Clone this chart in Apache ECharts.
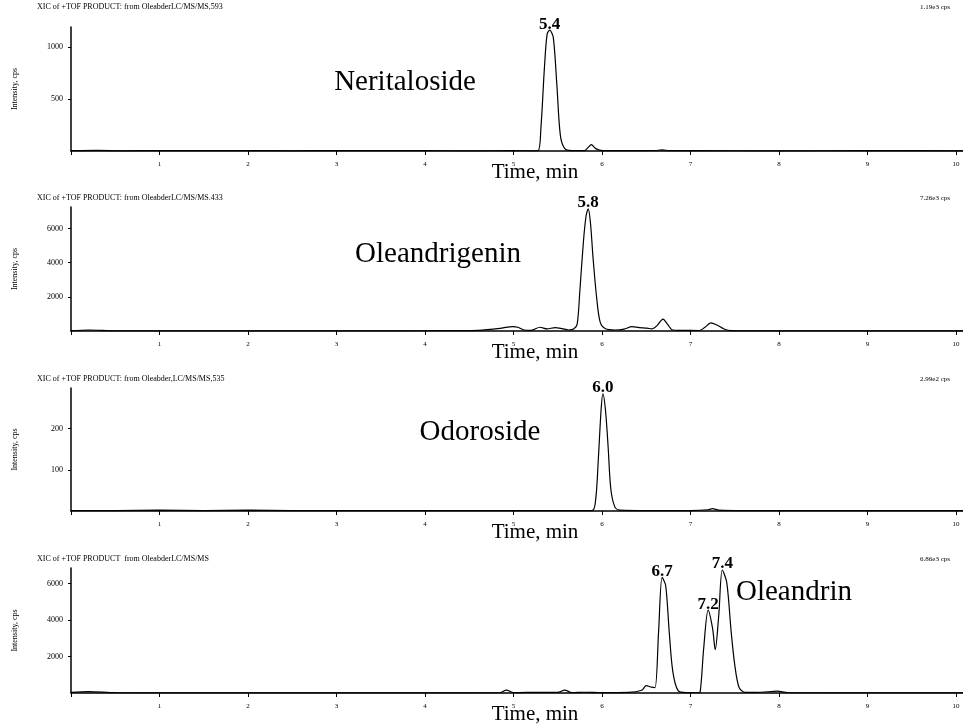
<!DOCTYPE html>
<html>
<head>
<meta charset="utf-8">
<script src="https://cdn.jsdelivr.net/npm/echarts@6/dist/echarts.min.js"></script>
<style>
  html, body { margin: 0; padding: 0; background: #fff; }
  #chart { width: 963px; height: 726px; }
</style>
</head>
<body>
<div id="chart"></div>
<script>
// retention time (min) and intensity (cps)
const neritalosideTime = [0, 0.3, 0.6, 1.0, 1.5, 2.0, 2.5, 3.0, 3.5, 4.0, 4.5, 5.0, 5.2, 5.28, 5.31, 5.35, 5.38, 5.41, 5.45, 5.49, 5.53, 5.58, 5.66, 5.8, 5.84, 5.88, 5.93, 6.01, 6.3, 6.6, 6.68, 6.76, 7.0, 8.0, 9.0, 10.08];
const neritalosideIntensity = [3, 6, 2, 5, 3, 4, 2, 4, 3, 3, 2, 3, 2, 5, 217, 800, 1120, 1160, 1090, 640, 150, 23, 4, 3, 30, 61, 23, 4, 3, 5, 10, 4, 3, 2, 3, 2];

const oleandrigeninTime = [0, 0.2, 0.5, 1, 2, 3, 4, 4.6, 4.85, 4.93, 4.99, 5.05, 5.12, 5.2, 5.3, 5.38, 5.47, 5.55, 5.62, 5.68, 5.72, 5.75, 5.79, 5.82, 5.845, 5.87, 5.90, 5.94, 5.98, 6.04, 6.15, 6.25, 6.34, 6.42, 6.51, 6.56, 6.62, 6.69, 6.74, 6.80, 6.9, 7.1, 7.16, 7.23, 7.30, 7.38, 7.46, 7.6, 8, 9, 10.08];
const oleandrigeninIntensity = [20, 60, 10, 15, 10, 10, 15, 40, 150, 230, 260, 220, 60, 40, 220, 120, 200, 140, 60, 110, 400, 2330, 5200, 6720, 7150, 6340, 4240, 1950, 515, 130, 60, 110, 260, 200, 170, 120, 300, 700, 400, 60, 40, 30, 200, 480, 350, 120, 20, 10, 8, 5, 5];

const odorosideTime = [0, 0.5, 1, 1.5, 2, 2.5, 3, 3.5, 4, 4.5, 5, 5.5, 5.888, 5.93, 5.96, 5.99, 6.01, 6.04, 6.07, 6.10, 6.145, 6.2, 6.5, 7.0, 7.2, 7.25, 7.32, 7.6, 8, 9, 10.08];
const odorosideIntensity = [1, 1, 2, 1, 2, 1, 1, 1, 1, 1, 1, 1, 1, 30, 130, 245, 285, 245, 155, 54, 10, 2, 1, 1, 3, 6, 2, 1, 1, 1, 1];

const oleandrinTime = [0, 0.2, 0.5, 1, 2, 3, 4, 4.85, 4.92, 5.0, 5.3, 5.5, 5.58, 5.66, 5.8, 6.0, 6.3, 6.45, 6.50, 6.56, 6.60, 6.64, 6.68, 6.72, 6.76, 6.80, 6.86, 6.96, 7.08, 7.11, 7.15, 7.20, 7.25, 7.28, 7.32, 7.36, 7.41, 7.46, 7.50, 7.55, 7.62, 7.8, 7.98, 8.1, 9, 10.08];
const oleandrinIntensity = [30, 80, 20, 10, 10, 10, 10, 20, 160, 20, 40, 30, 160, 20, 40, 20, 30, 150, 400, 320, 300, 3370, 6350, 5900, 3370, 1200, 130, 20, 15, 60, 2470, 4545, 3550, 2380, 4270, 6750, 6080, 3370, 1570, 300, 30, 40, 100, 20, 10, 10];

// labelled peaks: retention time, apex intensity, label
const neritalosidePeaks = [[5.41, 1160, '5.4']];
const oleandrigeninPeaks = [[5.845, 7150, '5.8']];
const odorosidePeaks = [[6.01, 285, '6.0']];
const oleandrinPeaks = [[6.68, 6350, '6.7'], [7.20, 4545, '7.2'], [7.36, 6750, '7.4']];

const xTicks = [0, 1, 2, 3, 4, 5, 6, 7, 8, 9, 10];
const xTickLabels = [1, 2, 3, 4, 5, 6, 7, 8, 9, 10];
const yTicks = [[500, 1000], [2000, 4000, 6000], [100, 200], [2000, 4000, 6000]];
const yMax = [1190, 7260, 299, 6860];

const headers = [
  'XIC of +TOF PRODUCT: from OleabderLC/MS/MS,593',
  'XIC of +TOF PRODUCT: from OleabderLC/MS/MS.433',
  'XIC of +TOF PRODUCT: from Oleabder,LC/MS/MS,535',
  'XIC of +TOF PRODUCT  from OleabderLC/MS/MS'
];
const maxCounts = ['1.19e3 cps', '7.26e3 cps', '2.99e2 cps', '6.86e3 cps'];
const compounds = ['Neritaloside', 'Oleandrigenin', 'Odoroside', 'Oleandrin'];

const traces = [
  [neritalosideTime, neritalosideIntensity, neritalosidePeaks],
  [oleandrigeninTime, oleandrigeninIntensity, oleandrigeninPeaks],
  [odorosideTime, odorosideIntensity, odorosidePeaks],
  [oleandrinTime, oleandrinIntensity, oleandrinPeaks]
];

const SERIF = '"Liberation Serif", "Times New Roman", serif';
const gridTop = [27, 207, 388, 568];
const gridHeight = [124, 124, 123, 125];
const headerY = [7, 198, 379, 559];
const namePos = [[405, 82], [438, 254], [480, 432], [736, 592]];
const nameAlign = ['center', 'center', 'center', 'left'];

const chart = echarts.init(document.getElementById('chart'));

const grid = [], xAxis = [], yAxis = [], series = [], graphic = [];

traces.forEach(([times, values, peaks], i) => {
  // outerBoundsMode none: keep the grids where they are, the last axis name may run to the edge
  grid.push({ left: 71, right: 0, top: gridTop[i], height: gridHeight[i], outerBoundsMode: 'none' });

  xAxis.push({
    type: 'value', gridIndex: i, min: 0, max: 10.08,
    axisLine: { lineStyle: { color: '#000', width: 1.5 } },
    axisTick: { length: 4, customValues: xTicks, lineStyle: { color: '#000' } },
    axisLabel: { customValues: xTickLabels, fontSize: 7, color: '#000', fontFamily: SERIF, margin: 10 },
    splitLine: { show: false },
    name: 'Time, min', nameLocation: 'middle', nameGap: 11, nameMoveOverlap: false,
    nameTextStyle: { fontSize: 21, color: '#000', fontFamily: SERIF, padding: [0, 0, 0, 36] }
  });

  yAxis.push({
    type: 'value', gridIndex: i, min: 0, max: yMax[i],
    axisLine: { show: true, lineStyle: { color: '#000', width: 1.5 } },
    axisTick: { show: true, length: 3, customValues: yTicks[i], lineStyle: { color: '#000' } },
    axisLabel: {
      customValues: yTicks[i], formatter: v => String(v),
      fontSize: 8, color: '#000', fontFamily: SERIF, margin: 8
    },
    splitLine: { show: false },
    name: 'Intensity, cps', nameLocation: 'middle', nameGap: 52, nameMoveOverlap: false,
    nameTextStyle: { fontSize: 8, color: '#000', fontFamily: SERIF }
  });

  series.push({
    type: 'line', xAxisIndex: i, yAxisIndex: i,
    data: times.map((t, k) => [t, values[k]]),
    showSymbol: false, smooth: 0.3, silent: true,
    lineStyle: { color: '#000', width: 1.2 },
    markPoint: {
      symbol: 'rect', symbolSize: 1, itemStyle: { color: 'transparent' },
      label: {
        show: true, position: 'top', distance: -3, formatter: p => p.name,
        fontSize: 17, fontWeight: 'bold', color: '#000', fontFamily: SERIF
      },
      data: peaks.map(p => ({ coord: [p[0], p[1]], name: p[2] }))
    }
  });

  graphic.push({
    type: 'text', x: 37, y: headerY[i],
    style: { text: headers[i], font: '8px ' + SERIF, fill: '#000', textVerticalAlign: 'middle' }
  });
  graphic.push({
    type: 'text', x: 950, y: headerY[i],
    style: { text: maxCounts[i], font: '7px ' + SERIF, fill: '#000', textAlign: 'right', textVerticalAlign: 'middle' }
  });
  graphic.push({
    type: 'text', x: namePos[i][0], y: namePos[i][1],
    style: { text: compounds[i], font: '29px ' + SERIF, fill: '#000', textAlign: nameAlign[i], textVerticalAlign: 'middle' }
  });
});

chart.setOption({
  backgroundColor: '#fff',
  animation: false,
  grid, xAxis, yAxis, series, graphic
});
</script>
</body>
</html>
